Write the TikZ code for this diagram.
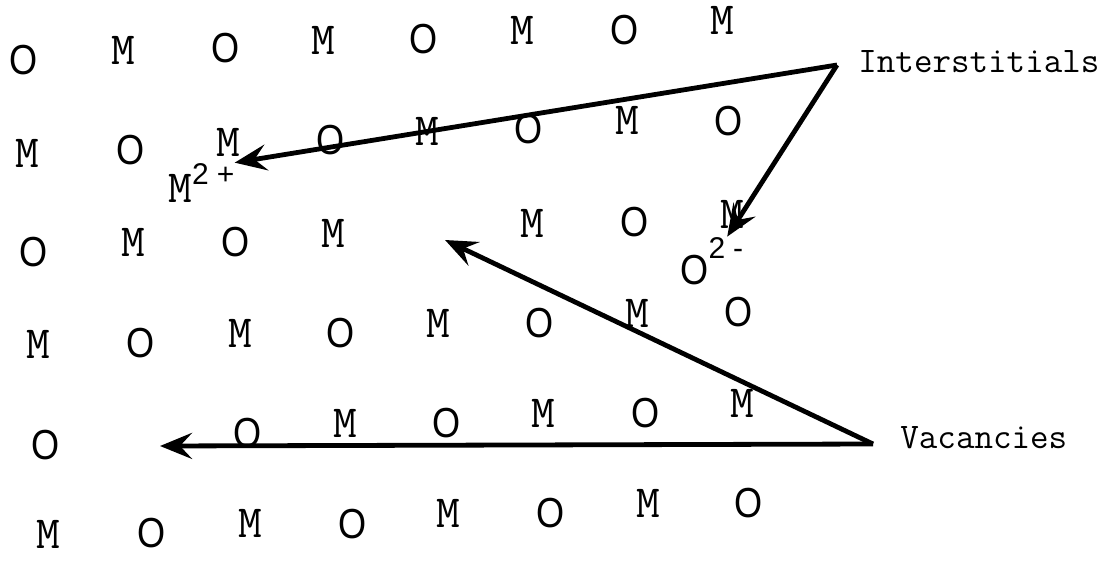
\documentclass[tikz,border=0pt]{standalone}
\usepackage{fontspec}
\newfontfamily\osans{Liberation Sans}
\usepackage{tikz}
\usetikzlibrary{arrows.meta}

\newcommand{\chg}{\osans\fontsize{15}{15}\selectfont}
\newcommand{\oxy}{\scalebox{0.86}[1]{O}}

\begin{document}
\begin{tikzpicture}[
        >={Stealth[length=16pt,width=13pt,inset=6pt]},
        x=0.5pt, y=-0.5pt,
        msite/.style={font=\fontsize{23}{23}\selectfont\ttfamily, inner sep=0pt},
        osite/.style={font=\fontsize{21}{21}\selectfont\osans, inner sep=0pt},
        tag/.style={font=\fontsize{18}{18}\selectfont\ttfamily, anchor=base west, inner sep=0pt},
        defect/.style={->, line width=2.4pt, line join=round}
    ]
      \useasboundingbox (0,0) rectangle (1112,562);

      \foreach \x/\y [count=\i] in {24/60, 226/48, 424/39, 625/30,
          131/150, 331/140, 529/129, 729/121,
          34/252, 236/242, 635/222,
          141/343, 341/333, 540/323, 739/312,
          46/445, 248/433, 447/423, 646/413,
          152/533, 353/524, 551/513, 749/503}
        \node[osite] (o\i) at (\x,\y) {\oxy};

      \foreach \x/\y [count=\i] in {123/50, 323/40, 522/30, 722/20,
          27/153, 228/142, 427/131, 627/120,
          133/242, 333/233, 532/223, 732/214,
          38/344, 240/333, 438/323, 637/313,
          345/423, 543/413, 742/403,
          48/534, 250/523, 448/513, 648/503}
        \node[msite] (m\i) at (\x,\y) {M};

      \node[msite, anchor=base west] (mint) at (168,202) {M\raisebox{9pt}{\chg 2\hspace{4pt}+}};
      \node[osite, anchor=base west] (oint) at (680,284) {\oxy\raisebox{13pt}{\chg 2\hspace{4pt}-}};

      \node[tag] (inter) at (858,72) {Interstitials};
      \node[tag] (vacan) at (900,448) {Vacancies};

      \coordinate (ip) at (837,65);
      \coordinate (vp) at (873,444);
      \coordinate (holeO) at (445,240);
      \coordinate (holeM) at (160,446);

      \draw[defect] (ip) -- (mint.north east);
      \draw[defect] (ip) -- (oint);
      \draw[defect] (vp) -- (holeO);
      \draw[defect] (vp) -- (holeM);
    \end{tikzpicture}
\end{document}
